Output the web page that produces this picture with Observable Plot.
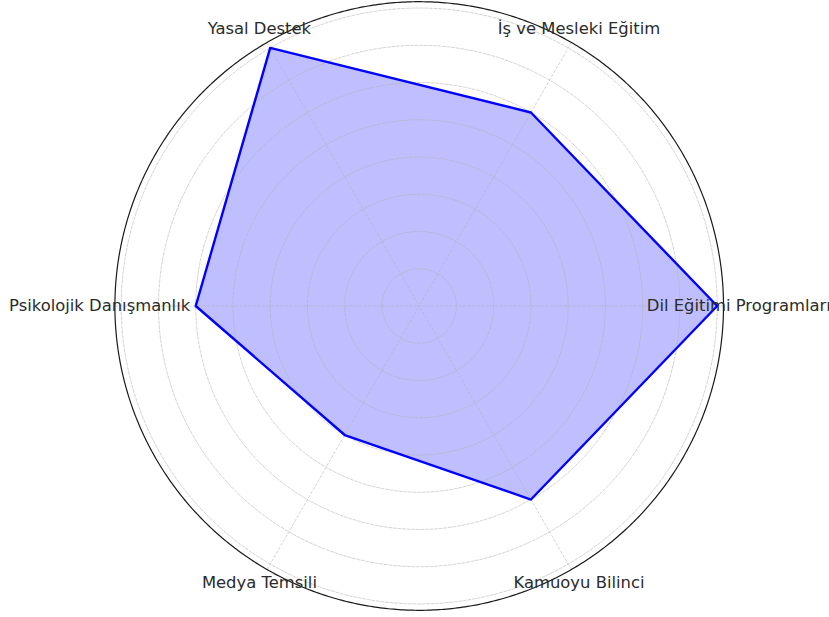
<!DOCTYPE html>
<html>
<head>
<meta charset="utf-8">
<script src="https://cdn.jsdelivr.net/npm/d3@7"></script>
<script src="https://cdn.jsdelivr.net/npm/@observablehq/plot@0.6"></script>
<style>
  html, body { margin: 0; padding: 0; background: #fff; overflow: hidden; }
  #chart { width: 829px; height: 617px; }
</style>
</head>
<body>
<div id="chart"></div>
<script>
// Categories (counter-clockwise from the right, 60° apart)
const categories = [
  "Dil Eğitimi Programları",
  "İş ve Mesleki Eğitim",
  "Yasal Destek",
  "Psikolojik Danışmanlık",
  "Medya Temsili",
  "Kamuoyu Bilinci"
];
const values = [8, 6, 8, 6, 4, 6];
const ringTicks = [1, 2, 3, 4, 5, 6, 7, 8];
const rMax = 8.17;
const labelR = 8.58;

// angle in degrees (math convention) -> longitude on the polar projection
const angleOf = (i) => i * 360 / categories.length;
const lon = (i) => 90 + angleOf(i);

const data = categories.map((c, i) => ({category: c, value: values[i], i}));
const spokes = categories.map((c, i) => ({i}));

const chart = Plot.plot({
  width: 829,
  height: 617,
  marginTop: 1.2,
  marginBottom: 7.2,
  marginLeft: 8.4,
  marginRight: 0,
  style: {fontFamily: "DejaVu Sans, sans-serif", background: "white", overflow: "visible"},
  projection: {
    type: "azimuthal-equidistant",
    rotate: [0, -90],
    domain: d3.geoCircle().center([0, 90]).radius(rMax)(),
    clip: false
  },
  marks: [
    // filled polygon
    Plot.area(data, {
      x1: (d) => lon(d.i),
      y1: (d) => 90 - d.value,
      x2: 0,
      y2: 90,
      fill: "#0000ff",
      fillOpacity: 0.25,
      curve: "linear-closed"
    }),
    // ring grid
    Plot.geo(ringTicks, {
      geometry: (r) => d3.geoCircle().center([0, 90]).radius(r).precision(0.5)(),
      fill: "none",
      stroke: "#b0b0b0",
      strokeWidth: 0.8,
      strokeOpacity: 0.7,
      strokeDasharray: "3,1.6"
    }),
    // spokes
    Plot.link(spokes, {
      x1: (d) => lon(d.i),
      y1: 90 - rMax,
      x2: 0,
      y2: 90,
      stroke: "#b0b0b0",
      strokeWidth: 0.8,
      strokeOpacity: 0.7,
      strokeDasharray: "3,1.6"
    }),
    // outer frame circle
    Plot.geo([rMax], {
      geometry: (r) => d3.geoCircle().center([0, 90]).radius(r).precision(0.5)(),
      fill: "none",
      stroke: "#1a1a1a",
      strokeWidth: 1.2
    }),
    // outline of the data
    Plot.line(data, {
      x: (d) => lon(d.i),
      y: (d) => 90 - d.value,
      stroke: "#0000ff",
      strokeWidth: 2.4,
      curve: "linear-closed"
    }),
    // category labels
    Plot.text(data, {
      x: (d) => lon(d.i),
      y: 90 - labelR,
      text: "category",
      textAnchor: "middle",
      fontSize: 16.4,
      fill: "#2b2b2b"
    })
  ]
});
document.getElementById("chart").appendChild(chart);
</script>
</body>
</html>
